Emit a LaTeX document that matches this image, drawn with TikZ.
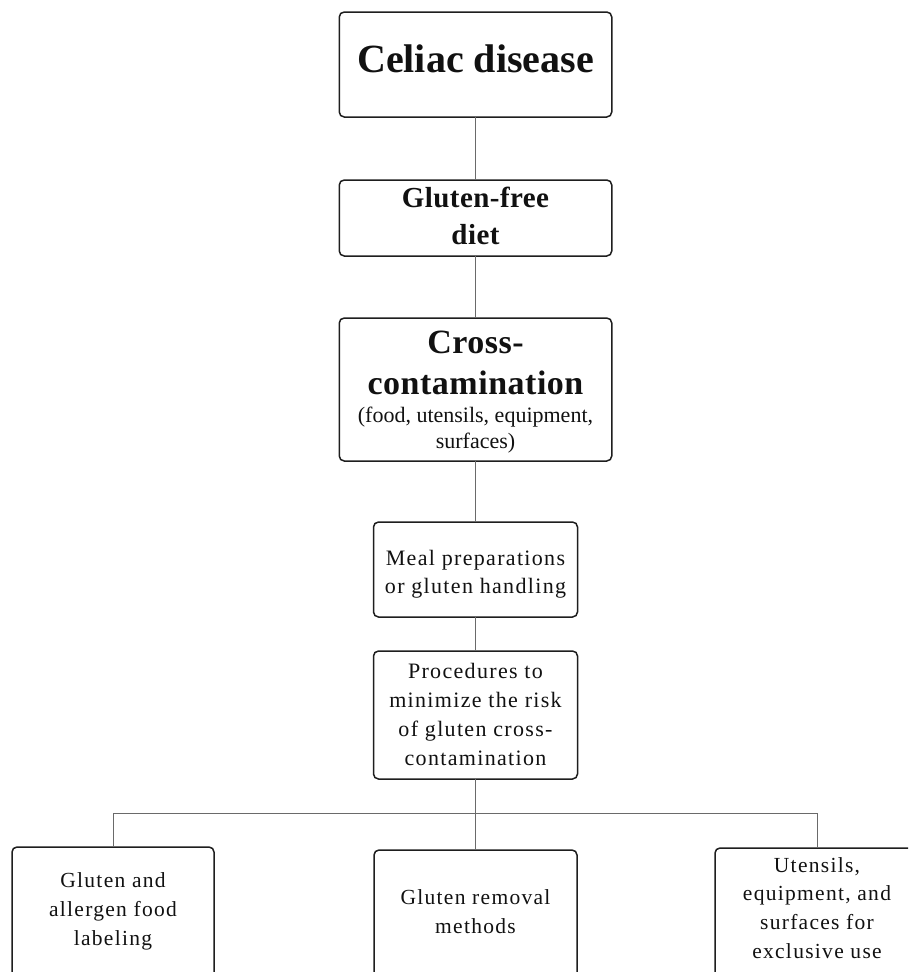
\documentclass[tikz,border=0pt]{standalone}
\usepackage{fontspec}
\setmainfont{Liberation Serif}
\newfontfamily\spaced[LetterSpace=6]{Liberation Serif}
\newfontfamily\boldspaced[LetterSpace=1.5]{Liberation Serif}
\definecolor{boxline}{HTML}{1E1E1E}
\definecolor{conn}{HTML}{6A6A6A}
\definecolor{txt}{HTML}{111111}
\begin{document}
\begin{tikzpicture}[x=1pt,y=-1pt,
  box/.style={draw=boxline, line width=1.5pt, rounded corners=5pt, fill=white, inner sep=0pt, outer sep=0pt},
  lbl/.style={anchor=base, inner sep=0pt, outer sep=0pt, text=txt},
  link/.style={draw=conn, line width=1pt}]
\useasboundingbox (0,0) rectangle (908,972);
\clip (0,0) rectangle (908,972);
\fill[white] (0,0) rectangle (908,972);
% boxes
\node[box, minimum width=272.5pt, minimum height=105pt] (A) at (475.5,64.5) {};
\node[box, minimum width=272.5pt, minimum height=76pt] (B) at (475.5,218) {};
\node[box, minimum width=272.5pt, minimum height=143pt] (C) at (475.5,389.5) {};
\node[box, minimum width=204pt, minimum height=95pt] (D) at (475.5,569.5) {};
\node[box, minimum width=204pt, minimum height=128pt] (E) at (475.5,715) {};
\node[box, minimum width=202pt, minimum height=143pt] (F) at (113,918.5) {};
\node[box, minimum width=203pt, minimum height=140pt] (G) at (475.5,920) {};
\node[box, minimum width=204pt, minimum height=142pt] (H) at (817,919) {};
\coordinate (bar) at (475.5,813);
% connectors
\draw[link] (A.south) -- (B.north);
\draw[link] (B.south) -- (C.north);
\draw[link] (C.south) -- (D.north);
\draw[link] (D.south) -- (E.north);
\draw[link] (E.south) -- (G.north);
\draw[link] (F.north) |- (bar) -| (H.north);
% texts
\node[lbl] (tA) at (475.5,72) {\fontsize{40}{48}\selectfont\bfseries Celiac disease};
\node[lbl] (tB) at (475.5,207) {\parbox[t]{260pt}{\centering\boldspaced\fontsize{29}{37}\selectfont\bfseries Gluten-free\\diet}};
\node[lbl] (tC1) at (475.5,353) {\parbox[t]{265pt}{\centering\boldspaced\fontsize{34}{41}\selectfont\bfseries Cross-\\contamination}};
\node[lbl] (tC2) at (475.5,422) {\parbox[t]{265pt}{\centering\fontsize{22}{26.5}\selectfont (food, utensils, equipment,\\surfaces)}};
\node[lbl] (tD) at (475.5,565) {\parbox[t]{200pt}{\centering\spaced\fontsize{22}{28}\selectfont Meal preparations\\or gluten handling}};
\node[lbl] (tE) at (475.5,678) {\parbox[t]{200pt}{\centering\spaced\fontsize{22}{29}\selectfont Procedures to\\minimize the risk\\of gluten cross-\\contamination}};
\node[lbl] (tF) at (113,887) {\parbox[t]{200pt}{\centering\spaced\fontsize{21.5}{29}\selectfont Gluten and\\allergen food\\labeling}};
\node[lbl] (tG) at (475.5,904) {\parbox[t]{200pt}{\centering\spaced\fontsize{21.5}{29}\selectfont Gluten removal\\methods}};
\node[lbl] (tH) at (817,872) {\parbox[t]{200pt}{\centering\spaced\fontsize{21.5}{28.7}\selectfont Utensils,\\equipment, and\\surfaces for\\exclusive use}};
\end{tikzpicture}
\end{document}
